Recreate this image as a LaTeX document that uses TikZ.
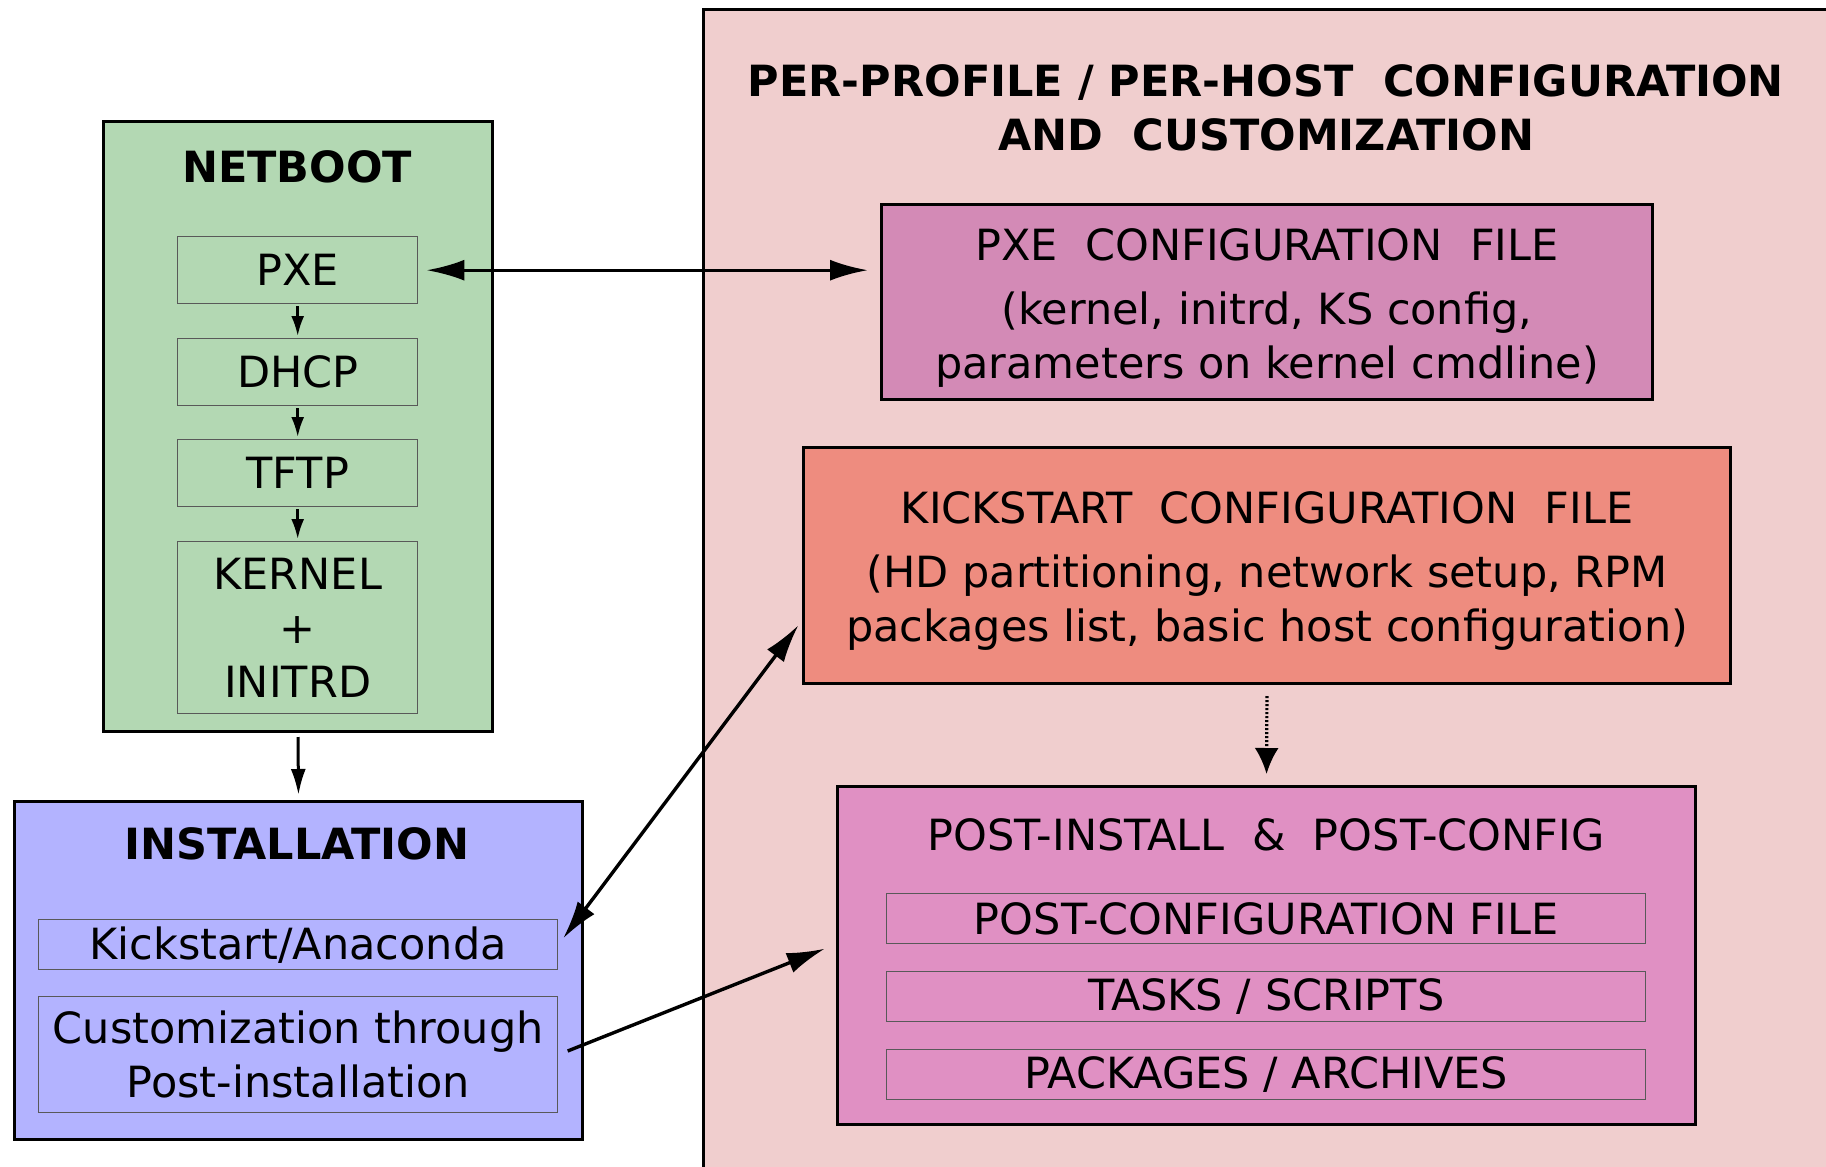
\documentclass[tikz,border=0pt]{standalone}
\usepackage{fontspec}
\setmainfont{DejaVu Sans}
\usetikzlibrary{arrows.meta,calc}
\definecolor{panelpink}{HTML}{F0CECE}
\definecolor{netgreen}{HTML}{B3D8B3}
\definecolor{instblue}{HTML}{B3B3FF}
\definecolor{pxeconf}{HTML}{D38AB6}
\definecolor{ksred}{HTML}{EE8C7F}
\definecolor{postpink}{HTML}{E090C3}
\begin{document}
\begin{tikzpicture}[x=1pt,y=-1pt,
  every node/.style={font=\fontsize{43}{54}\selectfont},
  outerbox/.style={draw=black, line width=3pt, inner sep=0pt, anchor=north west},
  innerbox/.style={draw=black!65, line width=1.4pt, inner sep=0pt, anchor=north west, align=center},
  titletext/.style={font=\fontsize{43}{54}\selectfont\bfseries, align=center, inner sep=0pt},
  bigarr/.style={line width=3.4pt, -{Latex[length=38pt,width=21pt]}},
  dblarr/.style={line width=3.4pt, {Latex[length=38pt,width=21pt]}-{Latex[length=38pt,width=21pt]}},
  smallarr/.style={line width=2.6pt, -{Latex[length=20pt,width=13pt]}}
]
\useasboundingbox (0,0) rectangle (1826,1167);
\fill[white] (0,0) rectangle (1826,1167);
% right panel
\begin{scope}
\clip (0,0) rectangle (1826,1167);
\node[outerbox, fill=panelpink, minimum width=1140, minimum height=1180] (panel) at (702,8) {};
\end{scope}
\node[titletext] (paneltitle) at (1266,108) {PER-PROFILE / PER-HOST\ \ CONFIGURATION\\AND\ \ CUSTOMIZATION};

% netboot
\node[outerbox, fill=netgreen, minimum width=389, minimum height=610] (netboot) at (102,120) {};
\node[titletext] (nettitle) at (297,167) {NETBOOT};
\node[innerbox, minimum width=240, minimum height=67] (pxe) at (177,236) {PXE};
\node[innerbox, minimum width=240, minimum height=67] (dhcp) at (177,338) {DHCP};
\node[innerbox, minimum width=240, minimum height=67] (tftp) at (177,439) {TFTP};
\node[innerbox, minimum width=240, minimum height=172] (kernel) at (177,541) {KERNEL\\+\\INITRD};
\draw[smallarr, shorten <=2pt, shorten >=2pt] (pxe.south) -- (dhcp.north);
\draw[smallarr, shorten <=2pt, shorten >=2pt] (dhcp.south) -- (tftp.north);
\draw[smallarr, shorten <=2pt, shorten >=2pt] (tftp.south) -- (kernel.north);

% installation
\node[outerbox, fill=instblue, minimum width=568, minimum height=338] (inst) at (13,800) {};
\node[titletext] (insttitle) at (297,844) {INSTALLATION};
\node[innerbox, minimum width=519, minimum height=50] (ka) at (38,919) {Kickstart/Anaconda};
\node[innerbox, minimum width=519, minimum height=116] (cust) at (38,996) {Customization through\\Post-installation};
\draw[line width=3pt, -{Latex[length=26pt,width=15pt]}, shorten <=4pt, shorten >=5pt] (netboot.south) -- (inst.north);

% PXE configuration file
\node[outerbox, fill=pxeconf, minimum width=771, minimum height=195, align=center] (pxeconf) at (880,203)
  {\rule{0pt}{43pt}PXE\ \ CONFIGURATION\ \ FILE\\[10pt](kernel, initrd, KS config,\\parameters on kernel cmdline)};

% kickstart configuration file
\node[outerbox, fill=ksred, minimum width=927, minimum height=236, align=center] (ksconf) at (802,446)
  {\rule{0pt}{43pt}KICKSTART\ \ CONFIGURATION\ \ FILE\\[10pt](HD partitioning, network setup, RPM\\packages list, basic host configuration)};

% post-install
\node[outerbox, fill=postpink, minimum width=858, minimum height=338] (post) at (836,785) {};
\node[inner sep=0pt] (posttitle) at (1266,835) {POST-INSTALL\ \ \&\ \ POST-CONFIG};
\node[innerbox, minimum width=759, minimum height=50] (pcf) at (886,893) {POST-CONFIGURATION FILE};
\node[innerbox, minimum width=759, minimum height=50] (tasks) at (886,971) {TASKS / SCRIPTS};
\node[innerbox, minimum width=759, minimum height=50] (pkgs) at (886,1049) {PACKAGES / ARCHIVES};

% connectors
\draw[dblarr, shorten <=8pt, shorten >=12pt]
  (pxe.east) -- (pxe.east -| pxeconf.west);
\draw[dblarr, shorten <=8pt, shorten >=6pt]
  (ka.east) -- ($(ksconf.south west)!0.27!(ksconf.north west)$);
\draw[bigarr, shorten <=10pt, shorten >=12pt]
  (cust.east) -- ($(post.south west)!0.533!(post.north west)$);
\draw[line width=3.2pt, dash pattern=on 2pt off 2pt, -{Latex[length=26pt,width=24pt]}, shorten <=11pt, shorten >=11pt]
  (ksconf.south) -- (post.north);
\end{tikzpicture}
\end{document}
